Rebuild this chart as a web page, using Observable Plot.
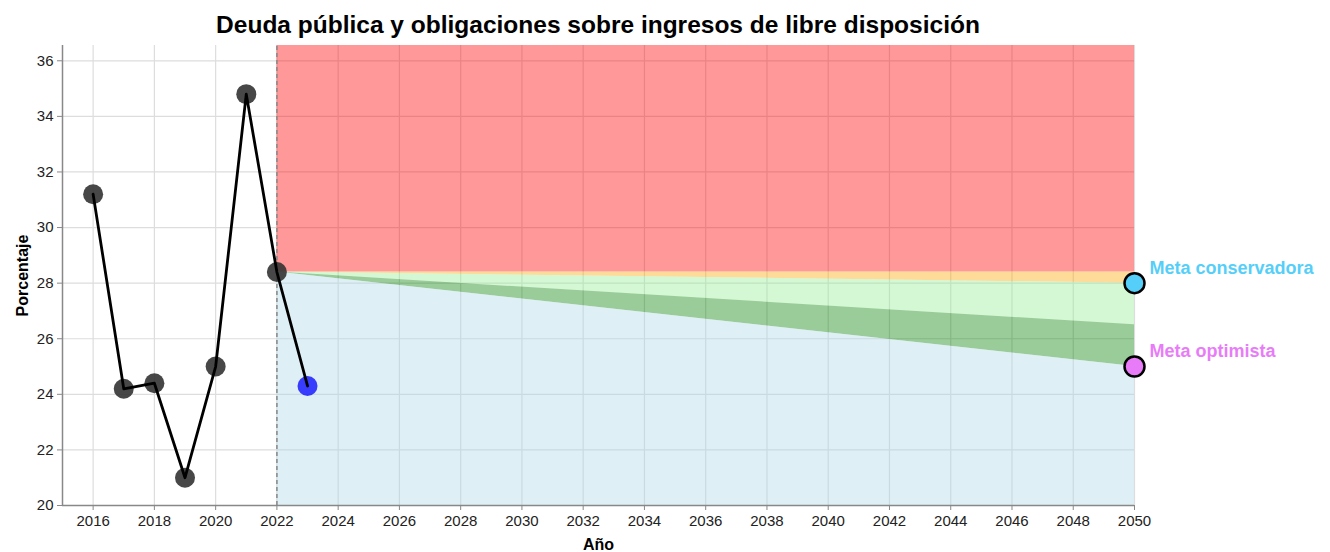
<!DOCTYPE html>
<html>
<head>
<meta charset="utf-8">
<script src="https://cdn.jsdelivr.net/npm/d3@7"></script>
<script src="https://cdn.jsdelivr.net/npm/@observablehq/plot@0.6"></script>
<style>
  body { margin: 0; background: #fff; font-family: "Liberation Sans", Arial, sans-serif; }
  #title { width: 1196px; height: 40px; text-align: center; font-weight: bold; font-size: 24.5px; line-height: 50px; color: #000; }
</style>
</head>
<body>
<div id="title">Deuda pública y obligaciones sobre ingresos de libre disposición</div>
<div id="chart"></div>
<script>
// Historical data
const years = [2016, 2017, 2018, 2019, 2020, 2021, 2022, 2023];
const values = [31.2, 24.2, 24.4, 21.0, 25.0, 34.8, 28.4, 24.3];
const estimateYear = 2023;

// Projection bands (start year -> end year)
const bandYears = [2022, 2050];
const baseLine = [28.4, 28.4];
const conservadora = [28.4, 28.0];
const intermedia = [28.4, 26.5];
const optimista = [28.4, 25.0];

// Goals
const goalYear = 2050;
const goalNames = ["Meta conservadora", "Meta optimista"];
const goalValues = [28.0, 25.0];
const goalColors = ["#55cff9", "#e87cf8"];

const xTicks = d3.range(2016, 2051, 2);
const yTicks = [20, 22, 24, 26, 28, 30, 32, 34, 36];
const yDomain = [20, 36.55];
const xDomain = [2015, 2050];

const hist = years.map((y, i) => ({year: y, value: values[i]}));
const bands = bandYears.map((y, i) => ({
  year: y, top: yDomain[1], base: baseLine[i], cons: conservadora[i],
  mid: intermedia[i], opt: optimista[i], bottom: yDomain[0]
}));
const goals = goalNames.map((n, i) => ({name: n, year: goalYear, value: goalValues[i], color: goalColors[i]}));

const chart = Plot.plot({
  width: 1330,
  height: 512,
  marginTop: 5,
  marginBottom: 47,
  marginLeft: 62,
  marginRight: 196,
  style: {fontFamily: "'Liberation Sans', Arial, sans-serif", fontSize: "14px", color: "#000", background: "#fff"},
  x: {domain: xDomain},
  y: {domain: yDomain},
  marks: [
    Plot.gridX(xTicks, {stroke: "#ddd", strokeOpacity: 1, strokeWidth: 1.2}),
    Plot.gridY(yTicks, {stroke: "#ddd", strokeOpacity: 1, strokeWidth: 1.2}),
    Plot.areaY(bands, {x: "year", y1: "base", y2: "top", fill: "red", fillOpacity: 0.4}),
    Plot.areaY(bands, {x: "year", y1: "cons", y2: "base", fill: "orange", fillOpacity: 0.4}),
    Plot.areaY(bands, {x: "year", y1: "mid", y2: "cons", fill: "lightgreen", fillOpacity: 0.4}),
    Plot.areaY(bands, {x: "year", y1: "opt", y2: "mid", fill: "green", fillOpacity: 0.4}),
    Plot.areaY(bands, {x: "year", y1: "bottom", y2: "opt", fill: "lightblue", fillOpacity: 0.4}),
    Plot.ruleX([bandYears[0]], {y1: yDomain[0], y2: yDomain[1], stroke: "#888", strokeWidth: 1.5, strokeDasharray: "4,3"}),
    Plot.ruleY([yDomain[0]], {stroke: "#888", strokeWidth: 1.5}),
    Plot.ruleX([xDomain[0]], {stroke: "#888", strokeWidth: 1.5}),
    Plot.axisX({ticks: xTicks, tickFormat: "d", tickSize: 5, tickPadding: 5, stroke: "#888", label: "Año", labelAnchor: "center", labelArrow: "none", labelOffset: 44}),
    Plot.axisY({ticks: yTicks, tickSize: 5, tickPadding: 4, stroke: "#888", label: "Porcentaje", labelAnchor: "center", labelArrow: "none", labelOffset: 46}),
    Plot.dot(hist.filter(d => d.year !== estimateYear), {x: "year", y: "value", r: 10, fill: "#333", fillOpacity: 0.9}),
    Plot.dot(hist.filter(d => d.year === estimateYear), {x: "year", y: "value", r: 10, fill: "blue", fillOpacity: 0.75}),
    Plot.line(hist, {x: "year", y: "value", stroke: "#000", strokeWidth: 2.8}),
    Plot.dot(goals, {x: "year", y: "value", r: 10, fill: "color", stroke: "#000", strokeWidth: 2.5}),
    Plot.text(goals, {x: "year", y: "value", text: "name", fill: "color", textAnchor: "start", dx: 15, dy: -15, fontSize: 18, fontWeight: "bold"})
  ]
});
chart.querySelectorAll('[aria-label="x-axis tick label"], [aria-label="y-axis tick label"]').forEach(g => {
  g.setAttribute("font-size", "15");
  g.style.fontSize = "15px";
  g.querySelectorAll("text").forEach(t => { t.style.fontSize = "15px"; t.style.fill = "#222"; });
});
chart.querySelectorAll('[aria-label="x-axis label"], [aria-label="y-axis label"]').forEach(g => {
  g.style.fontSize = "16px";
  g.style.fontWeight = "bold";
  g.querySelectorAll("text").forEach(t => { t.style.fontSize = "16px"; t.style.fontWeight = "bold"; });
});
document.getElementById("chart").appendChild(chart);
</script>
</body>
</html>
